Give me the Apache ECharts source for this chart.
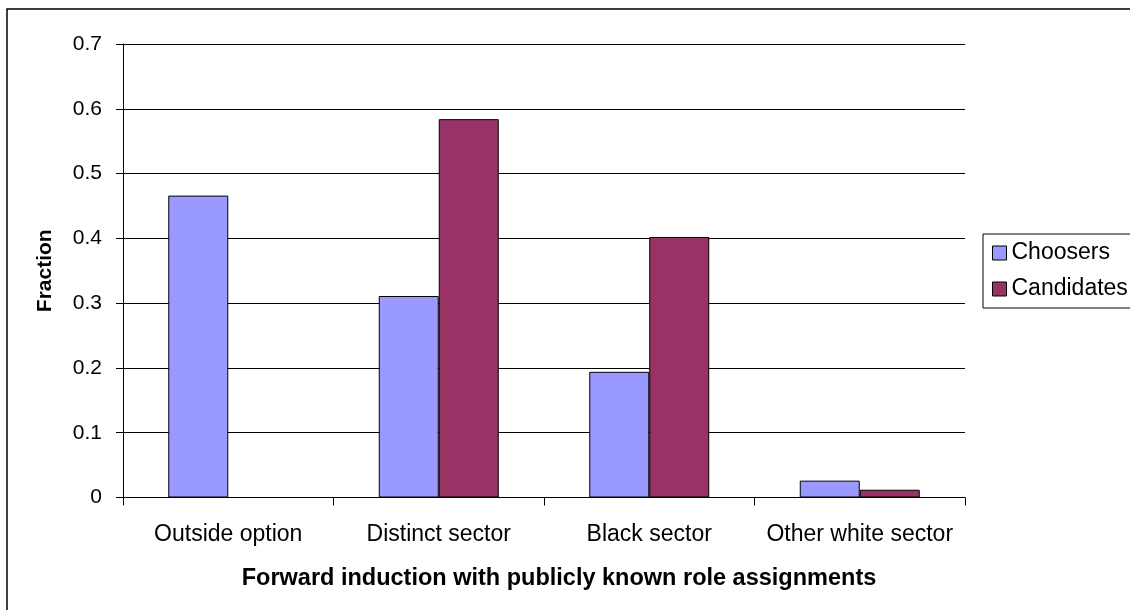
<!DOCTYPE html>
<html>
<head>
<meta charset="utf-8">
<script src="https://cdn.jsdelivr.net/npm/echarts@6/dist/echarts.min.js"></script>
<style>
html,body{margin:0;padding:0;background:#fff;}
#chart{width:1130px;height:610px;}
</style>
</head>
<body>
<div id="chart"></div>
<script>
const categories = ['Outside option', 'Distinct sector', 'Black sector', 'Other white sector'];
const seriesNames = ['Choosers', 'Candidates'];
const choosers = [0.466, 0.311, 0.194, 0.026];
const candidates = [0, 0.584, 0.402, 0.012];
const xTitle = 'Forward induction with publicly known role assignments';
const yTitle = 'Fraction';

const FONT = "'Liberation Sans', Arial, sans-serif";
const chart = echarts.init(document.getElementById('chart'), null, {renderer: 'canvas'});
chart.setOption({
  backgroundColor: '#fff',
  animation: false,
  textStyle: {fontFamily: FONT, color: '#000'},
  graphic: [{
    type: 'rect', silent: true, z: -1,
    shape: {x: 7, y: 9, width: 1300, height: 800},
    style: {fill: 'none', stroke: '#000', lineWidth: 1.5}
  }],
  grid: {left: 123, right: 165, top: 44, bottom: 112.5, containLabel: false},
  legend: {
    orient: 'vertical',
    left: 983, top: 234,
    padding: [7, 6, 7, 9],
    itemGap: 12,
    itemWidth: 14, itemHeight: 14,
    icon: 'rect',
    borderColor: '#000', borderWidth: 1,
    itemStyle: {borderColor: '#000', borderWidth: 1},
    textStyle: {fontFamily: FONT, fontSize: 23, color: '#000', lineHeight: 24},
    data: seriesNames
  },
  xAxis: {
    type: 'category',
    data: categories,
    boundaryGap: true,
    axisLine: {lineStyle: {color: '#000', width: 1}},
    axisTick: {show: true, interval: 0, length: 8, lineStyle: {color: '#000'}},
    axisLabel: {interval: 0, fontFamily: FONT, fontSize: 23, color: '#000', margin: 26},
    name: xTitle,
    nameLocation: 'middle',
    nameGap: 69,
    nameTextStyle: {fontFamily: FONT, fontSize: 23.5, fontWeight: 'bold', color: '#000', padding: [0, 0, 0, 30]}
  },
  yAxis: {
    type: 'value',
    min: 0, max: 0.7, interval: 0.1,
    axisLine: {show: true, lineStyle: {color: '#000', width: 1}},
    axisTick: {show: true, length: 7, lineStyle: {color: '#000'}},
    splitLine: {show: true, lineStyle: {color: '#000', width: 1}},
    axisLabel: {fontFamily: FONT, fontSize: 21, color: '#000', margin: 21},
    name: yTitle,
    nameLocation: 'middle',
    nameGap: 67,
    nameRotate: 90,
    nameTextStyle: {fontFamily: FONT, fontSize: 21, fontWeight: 'bold', color: '#000'}
  },
  series: [
    {
      name: seriesNames[0], type: 'bar', data: choosers,
      barGap: '0%', barCategoryGap: '43%',
      itemStyle: {color: '#9999FF', borderColor: '#000', borderWidth: 1}
    },
    {
      name: seriesNames[1], type: 'bar', data: candidates,
      barGap: '0%', barCategoryGap: '43%',
      itemStyle: {color: '#993366', borderColor: '#000', borderWidth: 1}
    }
  ]
});
</script>
</body>
</html>
